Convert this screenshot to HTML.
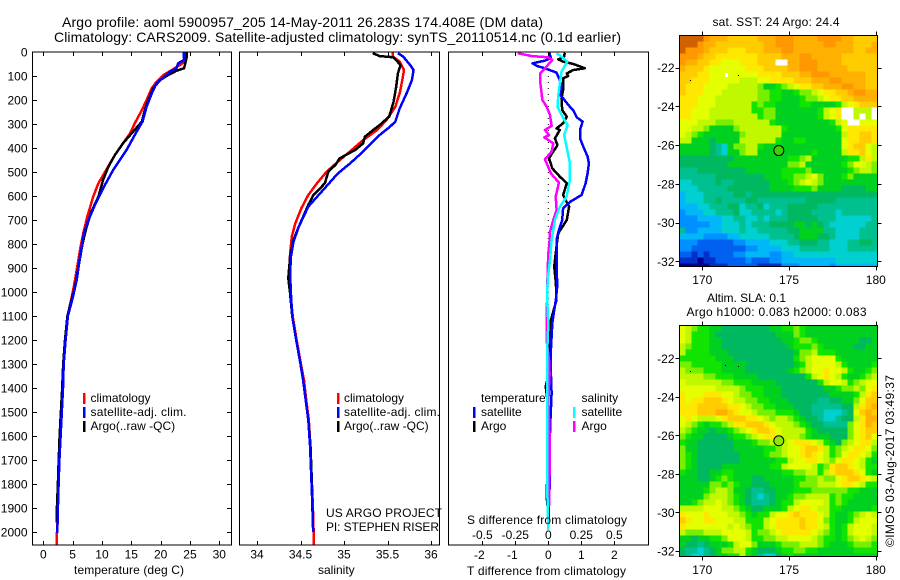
<!DOCTYPE html>
<html>
<head>
<meta charset="utf-8">
<title>Argo profile 5900957_205</title>
<style>
html,body{margin:0;padding:0;background:#fff;}
svg{display:block;font-family:"Liberation Sans",sans-serif;font-size:12px;fill:#000;}
</style>
</head>
<body>
<svg id="chart" xmlns="http://www.w3.org/2000/svg" width="900" height="580" viewBox="0 0 900 580">
<g font-size="14">
<text x="62" y="27" textLength="481">Argo profile: aoml 5900957_205 14-May-2011 26.283S 174.408E (DM data)</text>
<text x="54" y="42" textLength="567">Climatology: CARS2009. Satellite-adjusted climatology: synTS_20110514.nc (0.1d earlier)</text>
</g>
<g id="maps"></g>
<g id="plots"></g>
<g id="frames"></g>

<text x="74" y="574" textLength="110">temperature (deg C)</text>
<text x="318" y="574">salinity</text>
<text x="467" y="575" textLength="159">T difference from climatology</text>
<text x="467" y="524" textLength="160">S difference from climatology</text>

<g>
<rect x="83" y="393" width="2.5" height="11" fill="#f00"/>
<rect x="83" y="407" width="2.5" height="11" fill="#00f"/>
<rect x="83" y="421" width="2.5" height="11" fill="#000"/>
<text x="90.5" y="402">climatology</text>
<text x="90.5" y="416" textLength="96">satellite-adj. clim.</text>
<text x="90.5" y="430">Argo(..raw -QC)</text>
</g>
<g>
<rect x="337" y="393" width="2.5" height="11" fill="#f00"/>
<rect x="337" y="407" width="2.5" height="11" fill="#00f"/>
<rect x="337" y="421" width="2.5" height="11" fill="#000"/>
<text x="344" y="402">climatology</text>
<text x="344" y="416" textLength="96">satellite-adj. clim.</text>
<text x="344" y="430">Argo(..raw -QC)</text>
</g>
<g>
<text x="481" y="402">temperature</text>
<text x="581.5" y="402">salinity</text>
<rect x="473" y="407" width="2.5" height="11" fill="#00f"/>
<rect x="473" y="421" width="2.5" height="11" fill="#000"/>
<rect x="573" y="407" width="2.5" height="11" fill="#0ff"/>
<rect x="573" y="421" width="2.5" height="11" fill="#f0f"/>
<text x="481" y="416">satellite</text>
<text x="481" y="430">Argo</text>
<text x="581.5" y="416">satellite</text>
<text x="581.5" y="430">Argo</text>
</g>
<text x="326" y="517" textLength="116">US ARGO PROJECT</text>
<text x="326" y="531" textLength="113">PI: STEPHEN RISER</text>

<text x="712.5" y="26" textLength="127">sat. SST: 24 Argo: 24.4</text>
<text x="707" y="302" textLength="79">Altim. SLA: 0.1</text>
<text x="686.5" y="316" textLength="180">Argo h1000: 0.083 h2000: 0.083</text>
<text transform="translate(894 547) rotate(-90)" textLength="172">©IMOS 03-Aug-2017 03:49:37</text>
</svg>

<script>
// ---------- depth axis ----------
const depthTicks = [0,100,200,300,400,500,600,700,800,900,1000,1100,1200,1300,1400,1500,1600,1700,1800,1900,2000];

// ---------- temperature panel ----------
const tempTicks = [0,5,10,15,20,25,30];
const tempClimDepth = [0,40,54,75,96,124,151,200,242,297,339,380,429,492,547,603,686,756,825,894,964,1019,1100,1200,1300,1400,1500,1600,1700,1800,1900,2000,2054];
const tempClim = [24.1,24.1,23.3,21.9,20.5,19.3,18.5,17.6,16.8,15.6,14.8,13.6,12.2,10.7,9.4,8.5,7.5,6.8,6.25,5.8,5.3,4.85,4.15,3.75,3.45,3.28,3.05,2.85,2.7,2.55,2.43,2.33,2.3];
const tempSatDepth = [0,33,47,68,82,106,130,172,228,290,332,408,492,568,637,700,756,853,950,1026,1100,1200,1300,1400,1500,1600,1700,1800,1900,2005];
const tempSat = [23.9,24,23,22.7,21.6,20.5,19.3,18.5,17.6,16.9,15.9,14.2,11.9,10.2,8.8,7.7,6.9,6.25,5.7,5.0,4.2,3.8,3.48,3.35,3.15,2.95,2.75,2.6,2.48,2.38];
const tempArgoDepth = [0,26,68,78,96,117,151,200,242,290,332,380,429,478,533,603,665,728,797,894,978,1026,1100,1200,1300,1400,1500,1600,1700,1800,1900,1960];
const tempArgo = [24.4,24.4,24,22.7,21.3,19.9,18.75,17.9,17.3,16.8,15.3,13.6,12.2,11.1,10.2,9.4,8.2,7.4,6.7,6,5.4,4.9,4.1,3.7,3.4,3.22,3.0,2.78,2.62,2.48,2.32,2.3];

// ---------- salinity panel ----------
const salTicks = [34,34.5,35,35.5,36];
const salTickLabels = ['34','34.5','35','35.5','36'];
const salClimDepth = [3,19,40,75,117,172,228,283,325,367,408,457,499,547,596,651,714,769,839,922,1006,1100,1200,1300,1367,1450,1533,1644,1783,1922,2054];
const salClim = [35.56,35.56,35.64,35.69,35.67,35.64,35.59,35.49,35.38,35.22,35.09,34.93,34.8,34.69,34.59,34.51,34.44,34.4,34.38,34.37,34.385,34.41,34.455,34.505,34.54,34.565,34.595,34.615,34.63,34.645,34.655];
const salSatDepth = [5,19,54,75,117,172,235,290,311,346,415,464,506,575,644,728,790,853,922,1006,1100,1200,1300,1367,1450,1533,1644,1783,1922,2000];
const salSat = [35.62,35.68,35.76,35.8,35.78,35.72,35.64,35.59,35.53,35.41,35.22,35.07,34.93,34.76,34.59,34.48,34.42,34.39,34.38,34.39,34.405,34.45,34.5,34.53,34.56,34.59,34.61,34.625,34.64,34.645];
const salArgoDepth = [5,17,22,54,89,144,207,269,304,318,353,381,408,443,471,499,547,596,637,728,783,853,943,1006,1100,1200,1300,1367,1450,1533,1644,1783,1950];
const salArgo = [35.33,35.41,35.57,35.65,35.62,35.6,35.57,35.52,35.41,35.36,35.24,35.22,35.13,34.95,34.9,34.82,34.78,34.65,34.59,34.48,34.42,34.38,34.36,34.38,34.405,34.45,34.5,34.53,34.56,34.59,34.615,34.63,34.64];

// ---------- difference panel ----------
const tDiffTicks = [-2,-1,0,1,2];
const sDiffTicks = [-0.5,-0.25,0,0.25,0.5];
const sDiffTickLabels = ['-0.5','-0.25','0','0.25','0.5'];
const tDiffSatDepth = [3,26,36,47,58,68,86,117,144,179,193,221,244,272,290,325,360,394,436,464,506,547,596,624,651,700,742,783,853,922,964,1033,1075,1131,1242,1339,1422,1547,1686,1769,1894,1992];
const tDiffSat = [.03,.08,-.1,-.48,-.35,-.1,.25,.35,.4,.35,.45,.61,.76,.86,1.04,.96,.96,1.06,1.19,1.23,1.19,1.13,1.01,.66,.45,.42,.32,.25,.25,.25,.28,.23,.18,.12,.08,.08,.1,.06,.03,.05,.02,0];
const tDiffArgoDepth = [3,19,31,40,50,68,75,89,100,110,158,193,242,269,297,318,325,360,388,415,443,485,519,547,596,644,700,756,811,894,964,1033,1117,1242,1339,1394,1478,1617,1839,1890];
const tDiffArgo = [.5,.48,.3,.45,.76,1.11,.76,.56,.6,.45,.45,.4,.42,.56,.45,.25,.35,.2,.28,.15,.02,.12,.35,.56,.45,.63,.56,.3,.25,.18,.23,.25,.08,.03,.02,-.08,0,.02,-.05,-.03];
const sDiffArgoDepth = [5,17,22,33,68,89,117,200,228,262,308,325,346,356,381,415,447,506,544,603,658,700,749,797,839,922,1131,1200,1283,1339,1450,1589,1742,1894];
const sDiffArgo = [-.232,-.126,0,.03,-.025,-.063,-.063,-.045,-.013,.013,.025,-.025,.005,-.03,.038,.025,-.025,.02,.08,.056,.063,.038,.013,.008,0,-.005,-.013,-.013,.005,.01,0,.01,.01,.005];
const sDiffSatDepth = [5,19,40,82,130,179,228,276,304,346,394,464,533,603,644,700,783,867,950,1033,1131,1269,1450,1617,1811,1992];
const sDiffSat = [.063,.1,.144,.1,.088,.076,.07,.114,.146,.12,.139,.164,.164,.139,.088,.05,.025,.013,-.005,-.008,0,-.01,-.01,-.008,-.008,0];

// ---------- map panels ----------
const lonTicks = [170,175,180];
const sstLatTicks = [-22,-24,-26,-28,-30,-32];
const slaLatTicks = [-22,-24,-26,-28,-30,-32];
const argoLon = [174.41];
const argoLat = [-26.28];
const nearbyFloatLon = [171.3,172.05,169.3];
const nearbyFloatLat = [-22.35,-22.4,-22.65];
const mapColorLevels = {
  '0':'#000090','1':'#0030c8','2':'#0060f0','3':'#0090ff','4':'#00b8f8','5':'#00d0d0',
  '6':'#00c090','7':'#00b860','8':'#00d020','9':'#10e400','a':'#78ee00','b':'#c0f800',
  'c':'#e4ff00','d':'#ffe800','e':'#ffcc00','f':'#ffb000','g':'#ff9800','h':'#d06000','w':'#ffffff'
};
const sstGrid = [
"hhhhgfffeeeeefffgggffffggggffeeee",
"hhhgffeeeeeeeeffgggfffffggfffeeef",
"hgggfeeedddeeefffggffffffffffeeff",
"gggfeedddddddeeeefffggfffffeeeeee",
"gffeeddcccdddeeewwffgggffffeeeeee",
"feeedccccccdddeeeeffgggfffffeeeee",
"eeeddccccccccddddeeeffgggffffffee",
"eedddcccccbbbccddddeeefffggffffee",
"edddccccbbbbba889abcddeefffggffee",
"edddcccbbbbbbaa99889aabcddeefggff",
"dddcccbbbbbbbaa998889aabcddeeffff",
"dddcccbbbbbb9a9988889988889bcdeee",
"ddcccbbbbbbb99aa88888889bcdwwbbbw",
"ddcccbbbbbbbb9aa88888889bcdwwbwbw",
"cccbbbaaabbbbbb98888888889bcwwccc",
"ccbba8888abbbbbbb9888888889cddddd",
"cba9888888abbbbbb8888888888bddeed",
"bb88878888bbbbbb98899888888cddeed",
"888887658aabb98888888888888cdeecb",
"8888876588abb88888888898888bddecb",
"77777777788888888899ab88888899bdb",
"777777778888888888aab8888889accba",
"666777777778888889999a8888889abba",
"6666667777777788899aabca8889a8888",
"5566667667777778889abcba888888888",
"5556666677777778888999a8888777788",
"455566666776777777777777777777777",
"455566766667766666666777776666666",
"444556667756675666777776666666666",
"344455666755666656777766665666666",
"333444455665565666777776665555556",
"333334455565666777788787655555566",
"633444455565566666778888665555666",
"444433334455555666678887765555666",
"333222222334444555667776655566776",
"332222222223344445556666655566666",
"221212222334444334455555555555555",
"111011222223222334444444445555555",
"000001112222211113334444434444444"
];
const slaGrid = [
"cba9988777777778899a9888888888888",
"cb99987777777777888a9888888888888",
"cb999887777777777889aa98888888778",
"ba99988777777777778999a9888887788",
"b9999888777777777778aab9998888888",
"99999988877777777779abcccc9888888",
"aa9999988887777777789bccccb988889",
"baaa9998888777777789abccdccb9889a",
"bbbbaa9998888777777779bcdcb9889ab",
"cbbbbbbaa999888877777779bccb9abc",
"ccccccbbbba9998887777777889aabacd",
"dcccdddccbaa998887777777788889bde",
"dcddeeedcbbaa99888777776677 88acee",
"dddeeeeeddcbaa9988877766666 77bdef",
"dddeeeffedccbaaa99987766555 67cefe",
"cdcbbbcdeeeddcbabba9877655677bdff",
"cba9899abddeeedcbbba98776666acdfe",
"ba9887889abcdeedcbbbb9877777acdee",
"a988777789 9abcddcbbba988877 7acdec",
"9887777778889aabbbcdddcb987abcddb",
"a887777778888899abccdeedb9abcddca",
"a98777777788889aabccdedcb9acddcb9",
"a98777777788888899bccddcbacddcb98",
"a9877778888888899bccccb9adeedcb99",
"9887788998888888899aabb9bdeeedc98",
"8887789a9888778888899aabaacdeedcb",
"88888aa9a98877788889aaabbbcddcb99",
"88889abba8876677888999aaaaaa99888",
"8888abbba9876567889aabbbb9a998888",
"889abbcba9876667899bccccb9a988888",
"bbbbcccbba98778889bcddcbb99888889",
"dcccdcccbba9899bccdedddcb9889abcb",
"edccddcccbb999bcddddeddca9889bccc",
"dcccccccbcba99bcddddeddcb989bcccb",
"baaabbbccccb9aabcdddddcba989bcccb",
"8878899acccb99aabbccccba9989abcba",
"877678889bcca8889aaabbba98889aaa9",
"7665678aabb98777899aa99888888999",
"7655678899b986557898888888888888"
];

const NS = 'http://www.w3.org/2000/svg';
const plotsLayer = document.getElementById('plots');
const framesLayer = document.getElementById('frames');
const mapsLayer = document.getElementById('maps');

const PANEL_TOP = 52, PANEL_BOTTOM = 545;
function yDepth(d){ return PANEL_TOP + d * 0.24; }
function xTemp(t){ return 43.3 + t * 5.867; }
function xSal(s){ return 257 + (s - 34) * 87; }
function xTDiff(t){ return 548.3 + t * 33; }
function xSDiff(s){ return 548.3 + s * 132; }
function lonX(lon){ return 702.3 + (lon - 170) * 17.35; }
function sstLatY(lat){ return 67.7 + (-22 - lat) * 19.36; }
function slaLatY(lat){ return 358.3 + (-22 - lat) * 19.27; }

function drawLine(name, xFn, depths, values, color, width){
  const pl = document.createElementNS(NS, 'polyline');
  
  
  pl.setAttribute('points', depths.map(function(d, i){ return xFn(values[i]).toFixed(1) + ',' + yDepth(d).toFixed(1); }).join(' '));
  pl.setAttribute('fill', 'none');
  pl.setAttribute('stroke', color);
  pl.setAttribute('stroke-width', width);
  pl.setAttribute('stroke-linejoin', 'round');
  pl.setAttribute('shape-rendering', 'crispEdges');
  plotsLayer.appendChild(pl);
}
function seg(parent, x1, y1, x2, y2, name){
  const l = document.createElementNS(NS, 'line');
  
  
  l.setAttribute('x1', x1);
  l.setAttribute('y1', y1);
  l.setAttribute('x2', x2);
  l.setAttribute('y2', y2);
  l.setAttribute('stroke', '#000');
  l.setAttribute('stroke-width', 1);
  l.setAttribute('shape-rendering', 'crispEdges');
  parent.appendChild(l);
}
function label(parent, x, y, str, anchor, name){
  const t = document.createElementNS(NS, 'text');
  
  
  t.setAttribute('x', x);
  t.setAttribute('y', y);
  t.setAttribute('text-anchor', anchor);
  t.textContent = str;
  parent.appendChild(t);
}
function frame(x, y, w, h, name){
  const r = document.createElementNS(NS, 'rect');
  
  
  r.setAttribute('x', x);
  r.setAttribute('y', y);
  r.setAttribute('width', w);
  r.setAttribute('height', h);
  r.setAttribute('fill', 'none');
  r.setAttribute('stroke', '#000');
  r.setAttribute('stroke-width', 1);
  r.setAttribute('shape-rendering', 'crispEdges');
  framesLayer.appendChild(r);
}

// temperature panel
frame(32.5, PANEL_TOP, 199, PANEL_BOTTOM - PANEL_TOP, 'temperature-panel-frame');
depthTicks.forEach(function(d){
  const y = Math.round(yDepth(d)) + 0.5;
  if (d > 0) {
    seg(framesLayer, 32.5, y, 37, y, 'depth-tick-left');
    seg(framesLayer, 227, y, 231.5, y, 'depth-tick-right');
  }
  label(framesLayer, 27.5, yDepth(d) + 4.5, String(d), 'end', 'depth-tick-label');
});
tempTicks.forEach(function(t){
  const x = Math.round(xTemp(t)) + 0.5;
  seg(framesLayer, x, PANEL_TOP, x, PANEL_TOP + 4, 'temperature-tick-top');
  seg(framesLayer, x, PANEL_BOTTOM - 4, x, PANEL_BOTTOM, 'temperature-tick-bottom');
  label(framesLayer, xTemp(t), 558.5, String(t), 'middle', 'temperature-tick-label');
});

// salinity panel
frame(239.5, PANEL_TOP, 200, PANEL_BOTTOM - PANEL_TOP, 'salinity-panel-frame');
salTicks.forEach(function(s, i){
  const x = Math.round(xSal(s)) + 0.5;
  seg(framesLayer, x, PANEL_TOP, x, PANEL_TOP + 4, 'salinity-tick-top');
  seg(framesLayer, x, PANEL_BOTTOM - 4, x, PANEL_BOTTOM, 'salinity-tick-bottom');
  label(framesLayer, xSal(s), 558.5, salTickLabels[i], 'middle', 'salinity-tick-label');
});

// difference panel
frame(448.5, PANEL_TOP, 200, PANEL_BOTTOM - PANEL_TOP, 'difference-panel-frame');
tDiffTicks.forEach(function(t){
  const x = Math.round(xTDiff(t)) + 0.5;
  seg(framesLayer, x, PANEL_TOP, x, PANEL_TOP + 4, 'difference-tick-top');
  seg(framesLayer, x, PANEL_BOTTOM - 4, x, PANEL_BOTTOM, 'difference-tick-bottom');
  label(framesLayer, xTDiff(t) - (t < 0 ? 3 : 0), 559, String(t), 'middle', 't-difference-tick-label');
});
sDiffTicks.forEach(function(s, i){
  label(framesLayer, xSDiff(s), 539, sDiffTickLabels[i], 'middle', 's-difference-tick-label');
});

// zero reference
const zeroLine = document.createElementNS(NS, 'line');


zeroLine.setAttribute('x1', xTDiff(0));
zeroLine.setAttribute('x2', xTDiff(0));
zeroLine.setAttribute('y1', PANEL_TOP);
zeroLine.setAttribute('y2', yDepth(2000));
zeroLine.setAttribute('stroke', '#000');
zeroLine.setAttribute('stroke-width', 1);
zeroLine.setAttribute('stroke-dasharray', '1 5');
plotsLayer.appendChild(zeroLine);

// profile lines
drawLine('temperature-climatology-line', xTemp, tempClimDepth, tempClim, '#f00', 2.5);
drawLine('temperature-argo-line', xTemp, tempArgoDepth, tempArgo, '#000', 2.5);
drawLine('temperature-satellite-line', xTemp, tempSatDepth, tempSat, '#00f', 2.5);
drawLine('salinity-climatology-line', xSal, salClimDepth, salClim, '#f00', 2.5);
drawLine('salinity-argo-line', xSal, salArgoDepth, salArgo, '#000', 2.5);
drawLine('salinity-satellite-line', xSal, salSatDepth, salSat, '#00f', 2.5);
drawLine('t-difference-argo-line', xTDiff, tDiffArgoDepth, tDiffArgo, '#000', 2.5);
drawLine('t-difference-satellite-line', xTDiff, tDiffSatDepth, tDiffSat, '#00f', 2.5);
drawLine('s-difference-argo-line', xSDiff, sDiffArgoDepth, sDiffArgo, '#f0f', 2.5);
drawLine('s-difference-satellite-line', xSDiff, sDiffSatDepth, sDiffSat, '#0ff', 2.5);

// maps
function drawMap(name, grid, left, top, width, height, latY, latTicks, circleFill){
  const clipId = name + '-clip';
  const clip = document.createElementNS(NS, 'clipPath');
  clip.setAttribute('id', clipId);
  const clipRect = document.createElementNS(NS, 'rect');
  clipRect.setAttribute('x', left);
  clipRect.setAttribute('y', top);
  clipRect.setAttribute('width', width);
  clipRect.setAttribute('height', height);
  clip.appendChild(clipRect);
  mapsLayer.appendChild(clip);

  const g = document.createElementNS(NS, 'g');
  
  
  g.setAttribute('clip-path', 'url(#' + clipId + ')');
  g.setAttribute('shape-rendering', 'crispEdges');
  const CELL = 6;
  grid.forEach(function(rowStr, r){
    const row = rowStr.replace(/ /g, '');
    for (let c = 0; c < 33; c++) {
      const code = row[c] || row[row.length - 1];
      const cell = document.createElementNS(NS, 'rect');
      
      
      cell.setAttribute('x', left + c * CELL);
      cell.setAttribute('y', top + r * CELL);
      cell.setAttribute('width', CELL);
      cell.setAttribute('height', CELL);
      cell.setAttribute('fill', mapColorLevels[code]);
      g.appendChild(cell);
    }
  });
  mapsLayer.appendChild(g);

  nearbyFloatLon.forEach(function(lon, i){
    const dot = document.createElementNS(NS, 'rect');
    
    
    dot.setAttribute('x', Math.round(lonX(lon)));
    dot.setAttribute('y', Math.round(latY(nearbyFloatLat[i])));
    dot.setAttribute('width', 1);
    dot.setAttribute('height', 1);
    dot.setAttribute('fill', '#000');
    dot.setAttribute('shape-rendering', 'crispEdges');
    mapsLayer.appendChild(dot);
  });

  argoLon.forEach(function(lon, i){
    const circ = document.createElementNS(NS, 'circle');
    
    
    circ.setAttribute('cx', lonX(lon));
    circ.setAttribute('cy', latY(argoLat[i]));
    circ.setAttribute('r', 5);
    circ.setAttribute('fill', circleFill);
    circ.setAttribute('stroke', '#000');
    circ.setAttribute('stroke-width', 1);
    mapsLayer.appendChild(circ);
  });

  frame(left, top, width, height, name + '-frame');
  const bottom = top + height, right = left + width;
  lonTicks.forEach(function(lon){
    const x = Math.round(lonX(lon)) + 0.5;
    seg(framesLayer, x, top - 4, x, top, name + '-lon-tick-top');
    seg(framesLayer, x, bottom, x, bottom + 4, name + '-lon-tick-bottom');
    label(framesLayer, lonX(lon), bottom + 17.5, String(lon), 'middle', name + '-lon-tick-label');
  });
  latTicks.forEach(function(lat){
    const y = Math.round(latY(lat)) + 0.5;
    seg(framesLayer, left - 4, y, left, y, name + '-lat-tick-left');
    seg(framesLayer, right, y, right + 4, y, name + '-lat-tick-right');
    label(framesLayer, left - 5, latY(lat) + 4.5, String(lat), 'end', name + '-lat-tick-label');
  });
}
drawMap('sst-map', sstGrid, 679.5, 35.5, 198, 231, sstLatY, sstLatTicks, '#40d000');
drawMap('sla-map', slaGrid, 679.5, 325.5, 198, 231, slaLatY, slaLatTicks, '#90e800');

const sstGap = document.createElementNS(NS, 'rect');


sstGap.setAttribute('x', 725);
sstGap.setAttribute('y', 73);
sstGap.setAttribute('width', 3);
sstGap.setAttribute('height', 4);
sstGap.setAttribute('fill', '#fff');
sstGap.setAttribute('shape-rendering', 'crispEdges');
mapsLayer.appendChild(sstGap);
</script>
</body>
</html>
